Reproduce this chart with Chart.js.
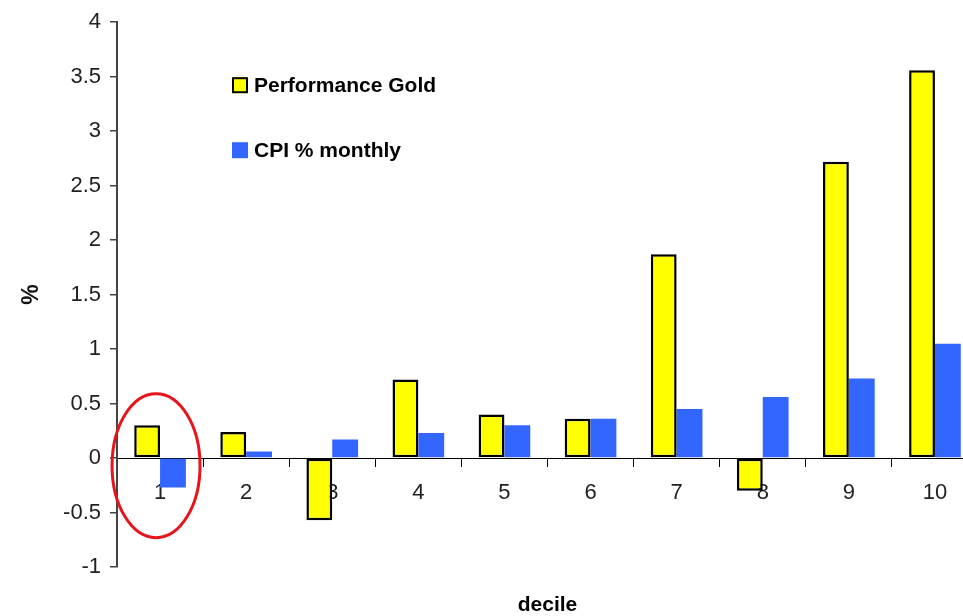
<!DOCTYPE html>
<html>
<head>
<meta charset="utf-8">
<script src="https://cdn.jsdelivr.net/npm/chart.js@4.4.1/dist/chart.umd.min.js"></script>
<style>
  html, body { margin: 0; padding: 0; background: #fff; overflow: hidden; }
  #wrap { position: relative; width: 990px; height: 616px; }
</style>
</head>
<body>
<div id="wrap"><canvas id="chart"></canvas></div>
<script>
// --- Data ---
const deciles = ['1', '2', '3', '4', '5', '6', '7', '8', '9', '10'];
const goldPerf = [0.30, 0.24, -0.57, 0.72, 0.40, 0.36, 1.87, -0.30, 2.72, 3.56];
const cpiMonthly = [-0.27, 0.06, 0.17, 0.23, 0.30, 0.36, 0.45, 0.56, 0.73, 1.05];
const yTicks = [-1, -0.5, 0, 0.5, 1, 1.5, 2, 2.5, 3, 3.5, 4];
const seriesNames = ['Performance Gold', 'CPI % monthly'];

const FONT = "'Liberation Sans', Arial, sans-serif";
Chart.defaults.font.family = FONT;

// --- Extras: legend inside plot, red ellipse, x title ---
const decorations = {
  id: 'decorations',
  afterDraw(chart) {
    const { ctx, chartArea } = chart;
    const xs = chart.scales.x;
    const ys = chart.scales.y;
    ctx.save();

    // legend
    const rows = [chartArea.top + 63, chartArea.top + 128];
    chart.data.datasets.forEach((ds, i) => {
      const bx = chartArea.left + 115;
      const by = rows[i] - 8;
      ctx.fillStyle = ds.backgroundColor;
      ctx.fillRect(bx, by, 16, 16);
      if (ds.borderWidth) {
        ctx.strokeStyle = '#000';
        ctx.lineWidth = 2;
        ctx.strokeRect(bx + 1, by + 1, 14, 14);
      }
      ctx.fillStyle = '#000';
      ctx.font = `bold 21px ${FONT}`;
      ctx.textBaseline = 'middle';
      ctx.textAlign = 'left';
      ctx.fillText(ds.label, bx + 22, rows[i] + 1);
    });

    // red ellipse round decile 1
    ctx.beginPath();
    ctx.ellipse(xs.getPixelForValue(0) - 4, ys.getPixelForValue(-0.07), 44, 72, 0, 0, Math.PI * 2);
    ctx.strokeStyle = '#e8141b';
    ctx.lineWidth = 3;
    ctx.stroke();

    // x title
    ctx.fillStyle = '#000';
    ctx.font = `bold 21px ${FONT}`;
    ctx.textAlign = 'center';
    ctx.textBaseline = 'middle';
    ctx.fillText('decile', (chartArea.left + chartArea.right) / 2, 605);
    ctx.restore();
  }
};

new Chart(document.getElementById('chart'), {
  type: 'bar',
  data: {
    labels: deciles,
    datasets: [
      {
        label: seriesNames[0],
        data: goldPerf,
        backgroundColor: '#ffff00',
        borderColor: '#000',
        borderWidth: 2.5,
        borderSkipped: false
      },
      {
        label: seriesNames[1],
        data: cpiMonthly,
        backgroundColor: '#3366ff',
        borderWidth: 0
      }
    ]
  },
  options: {
    responsive: true,
    maintainAspectRatio: false,
    animation: false,
    categoryPercentage: 0.6,
    barPercentage: 1.0,
    layout: { padding: { left: 0, top: 20, right: 12, bottom: 49 } },
    plugins: {
      legend: { display: false },
      tooltip: { enabled: false }
    },
    scales: {
      x: {
        position: { y: 0 },
        offset: true,
        grid: { offset: true, drawOnChartArea: false, tickLength: 8, color: '#000', lineWidth: 1 },
        border: { display: true, color: '#000', width: 1 },
        ticks: { color: '#222', font: { size: 22 }, padding: 14, maxRotation: 0 }
      },
      y: {
        min: yTicks[0],
        max: yTicks[yTicks.length - 1],
        afterBuildTicks: (scale) => { scale.ticks = yTicks.map(v => ({ value: v })); },
        afterFit: (scale) => { scale.width = 117; },
        grid: { drawOnChartArea: false, tickLength: 7, color: '#444', lineWidth: 1.5 },
        border: { display: true, color: '#444', width: 2 },
        ticks: { color: '#222', font: { size: 22 }, padding: 9, callback: (v) => String(v) },
        title: { display: true, text: '%', color: '#111', font: { size: 23, weight: 'bold' }, padding: { top: 18, bottom: 0 } }
      }
    }
  },
  plugins: [decorations]
});
</script>
</body>
</html>
